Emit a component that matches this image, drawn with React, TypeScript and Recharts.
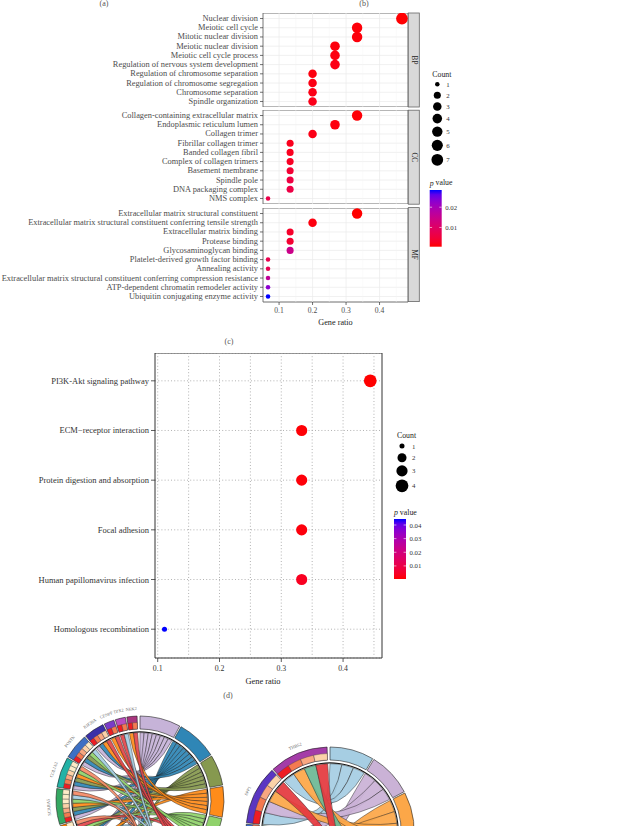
import React from 'react';
import {
  ScatterChart, Scatter, XAxis, YAxis, ZAxis, CartesianGrid, Cell,
  ReferenceLine, ReferenceArea, PieChart, Pie,
} from 'recharts';

const FONT = '"Liberation Serif", "DejaVu Serif", serif';

/* ---------------- (b) GO enrichment dot plot ---------------- */
const goFacets = ['BP', 'CC', 'MF'];

const bpTerms = [
  'Nuclear division', 'Meiotic cell cycle', 'Mitotic nuclear division', 'Meiotic nuclear division',
  'Meiotic cell cycle process', 'Regulation of nervous system development',
  'Regulation of chromosome separation', 'Regulation of chromosome segregation',
  'Chromosome separation', 'Spindle organization',
];
const bpRatio = [0.467, 0.333, 0.333, 0.267, 0.267, 0.267, 0.2, 0.2, 0.2, 0.2];
const bpCount = [7, 5, 5, 4, 4, 4, 3, 3, 3, 3];
const bpP = [0.0006, 0.0009, 0.001, 0.0011, 0.0013, 0.0016, 0.0012, 0.0015, 0.0016, 0.0018];

const ccTerms = [
  'Collagen-containing extracellular matrix', 'Endoplasmic reticulum lumen', 'Collagen trimer',
  'Fibrillar collagen trimer', 'Banded collagen fibril', 'Complex of collagen trimers',
  'Basement membrane', 'Spindle pole', 'DNA packaging complex', 'NMS complex',
];
const ccRatio = [0.333, 0.267, 0.2, 0.133, 0.133, 0.133, 0.133, 0.133, 0.133, 0.067];
const ccCount = [5, 4, 3, 2, 2, 2, 2, 2, 2, 1];
const ccP = [0.0008, 0.0012, 0.0016, 0.0021, 0.0023, 0.0027, 0.0042, 0.0058, 0.0062, 0.0068];

const mfTerms = [
  'Extracellular matrix structural constituent',
  'Extracellular matrix structural constituent conferring tensile strength',
  'Extracellular matrix binding', 'Protease binding', 'Glycosaminoglycan binding',
  'Platelet-derived growth factor binding', 'Annealing activity',
  'Extracellular matrix structural constituent conferring compression resistance',
  'ATP-dependent chromatin remodeler activity', 'Ubiquitin conjugating enzyme activity',
];
const mfRatio = [0.333, 0.2, 0.133, 0.133, 0.133, 0.067, 0.067, 0.067, 0.067, 0.067];
const mfCount = [5, 3, 2, 2, 2, 1, 1, 1, 1, 1];
const mfP = [0.0005, 0.0012, 0.0033, 0.004, 0.0145, 0.0072, 0.0075, 0.016, 0.023, 0.0285];

const goRatioTicks = [0.1, 0.2, 0.3, 0.4];
const goMinorTicks = [0.15, 0.25, 0.35, 0.45];
const goCountLegend = [1, 2, 3, 4, 5, 6, 7];
const goPTicks = [0.01, 0.02];

/* ---------------- (c) KEGG dot plot ---------------- */
const keggTerms = [
  'PI3K-Akt signaling pathway', 'ECM\u2212receptor interaction', 'Protein digestion and absorption',
  'Focal adhesion', 'Human papillomavirus infection', 'Homologous recombination',
];
const keggRatio = [0.444, 0.333, 0.333, 0.333, 0.333, 0.111];
const keggCount = [4, 3, 3, 3, 3, 1];
const keggP = [0.0004, 0.0008, 0.001, 0.0012, 0.0035, 0.0444];
const keggRatioTicks = [0.1, 0.2, 0.3, 0.4];
const keggMinorTicks = [0.15, 0.25, 0.35, 0.45];
const keggCountLegend = [1, 2, 3, 4];
const keggPTicks = [0.01, 0.02, 0.03, 0.04];

/* ---------------- (d) chord diagrams ---------------- */
const leftTerms = [
  'Collagen-containing extracellular matrix', 'Extracellular matrix structural constituent',
  'Collagen trimer', 'Nuclear division', 'Endoplasmic reticulum lumen',
  'Meiotic cell cycle', 'Spindle organization', 'Basement membrane',
];
const leftTermColors = ['#c6b3d8', '#2f86b6', '#86994f', '#ff8c1a', '#90d26b', '#e2474b', '#a6cee3', '#f58a66'];
const leftGenes = ['COL11A1', 'MMP11', 'CCNB1', 'BIRC5', 'SCARA5', 'COL1A2', 'POSTN', 'KIF20A', 'CENPF', 'TPX2', 'NEK2'];
const leftGeneColors = ['#a65628', '#ffd92f', '#e31a1c', '#ff7f00', '#35a862', '#22b2a6', '#3d70c4', '#3a30a8', '#7a3cc8', '#b94fc0', '#a8357e'];
const leftGeneTerms = [
  [0, 1, 2, 4, 6], [0, 1, 4, 7], [0, 1, 2, 3, 6], [0, 1, 2, 4, 5, 7], [0, 1, 2, 3, 4, 6, 7],
  [0, 1, 2, 3, 4, 7], [0, 1, 2, 4, 6], [0, 1, 3, 5], [3, 5], [5, 6], [3, 5],
];

const rightTerms = keggTerms;
const rightTermColors = ['#a6cee3', '#cab2d6', '#fca748', '#6db895', '#e4393e', '#ffed6f'];
const rightGenes = ['RAD51', 'COL1A2', 'COL3A1', 'ITGA11', 'SPP1', 'THBS2'];
const rightGeneColors = ['#e5c494', '#66a61e', '#1b9e77', '#3d6cc8', '#5b36c2', '#a43ca8'];
const rightGeneTerms = [[5], [1, 2, 3], [0, 2, 4], [1, 3], [0, 1, 2, 4], [0, 2, 3, 4]];

const squarePalette = ['#ee1d23', '#f47a50', '#f8a781', '#fcd2a8', '#feecc7'];

/* ---------------- colour helpers (Lab interpolation red -> blue) ---------------- */
const toLin = (c: number) => { const v = c / 255; return v <= 0.04045 ? v / 12.92 : Math.pow((v + 0.055) / 1.055, 2.4); };
const fromLin = (v: number) => {
  const s = v <= 0.0031308 ? 12.92 * v : 1.055 * Math.pow(Math.max(v, 0), 1 / 2.4) - 0.055;
  return Math.round(Math.max(0, Math.min(1, s)) * 255);
};
const fLab = (t: number) => (t > 216 / 24389 ? Math.cbrt(t) : ((24389 / 27) * t + 16) / 116);
const fInv = (t: number) => (t * t * t > 216 / 24389 ? t * t * t : (116 * t - 16) / (24389 / 27));
function rgbToLab(r: number, g: number, b: number) {
  const R = toLin(r), G = toLin(g), B = toLin(b);
  const X = (0.4124564 * R + 0.3575761 * G + 0.1804375 * B) / 0.95047;
  const Y = 0.2126729 * R + 0.7151522 * G + 0.072175 * B;
  const Z = (0.0193339 * R + 0.119192 * G + 0.9503041 * B) / 1.08883;
  const fx = fLab(X), fy = fLab(Y), fz = fLab(Z);
  return [116 * fy - 16, 500 * (fx - fy), 200 * (fy - fz)];
}
function labToHex(L: number, a: number, b: number) {
  const fy = (L + 16) / 116, fx = fy + a / 500, fz = fy - b / 200;
  const X = fInv(fx) * 0.95047, Y = fInv(fy), Z = fInv(fz) * 1.08883;
  const R = 3.2404542 * X - 1.5371385 * Y - 0.4985314 * Z;
  const G = -0.969266 * X + 1.8760108 * Y + 0.041556 * Z;
  const B = 0.0556434 * X - 0.2040259 * Y + 1.0572252 * Z;
  return '#' + [R, G, B].map((v) => fromLin(v).toString(16).padStart(2, '0')).join('');
}
const LAB_LO = rgbToLab(255, 0, 0);
const LAB_HI = rgbToLab(0, 0, 255);
function labMix(t: number) {
  const u = Math.max(0, Math.min(1, t));
  return labToHex(
    LAB_LO[0] + (LAB_HI[0] - LAB_LO[0]) * u,
    LAB_LO[1] + (LAB_HI[1] - LAB_LO[1]) * u,
    LAB_LO[2] + (LAB_HI[2] - LAB_LO[2]) * u,
  );
}
const pColor = (p: number, lo: number, hi: number) => labMix((p - lo) / (hi - lo));

/* ---------------- layout constants ---------------- */
const GO_LEFT = 263;
const GO_RIGHT = 408;
const GO_X_DOMAIN: [number, number] = [0.052, 0.485];
const GO_TOPS = [13, 110.2, 207.6];
const GO_H = 94;
const GO_ALL_P = [...bpP, ...ccP, ...mfP];
const GO_P_LO = Math.min(...GO_ALL_P);
const GO_P_HI = Math.max(...GO_ALL_P);
const GO_C_MAX = Math.max(...bpCount, ...ccCount, ...mfCount);
const GO_AREA: [number, number] = [16, 108];

const KG_LEFT = 155;
const KG_RIGHT = 382;
const KG_TOP = 353;
const KG_BOTTOM = 658;
const KG_X_DOMAIN: [number, number] = [0.0956, 0.463];
const KG_Y_DOMAIN: [number, number] = [-0.56, 5.58];
const KG_P_LO = Math.min(...keggP);
const KG_P_HI = Math.max(...keggP);
const KG_C_MAX = Math.max(...keggCount);
const KG_AREA: [number, number] = [20, 127];

const areaFor = (c: number, cMax: number, rng: [number, number]) =>
  rng[0] + ((Math.sqrt(c) - 1) / (Math.sqrt(cMax) - 1)) * (rng[1] - rng[0]);
const radiusFor = (c: number, cMax: number, rng: [number, number]) => Math.sqrt(areaFor(c, cMax, rng) / Math.PI);

/* custom tick renderers (no wrapping) */
const makeYTick = (labels: string[], fontSize: number, fill: string) => (props: any) => {
  const { x, y, payload } = props;
  return (
    <text x={x} y={y} textAnchor="end" dominantBaseline="central" fontSize={fontSize} fill={fill} fontFamily={FONT}>
      {labels[Math.round(payload.value)]}
    </text>
  );
};
const makeXTick = (fontSize: number, fill: string) => (props: any) => {
  const { x, y, payload } = props;
  return (
    <text x={x} y={y} textAnchor="middle" dominantBaseline="hanging" fontSize={fontSize} fill={fill} fontFamily={FONT}>
      {payload.value}
    </text>
  );
};

/* ---------------- GO facet ---------------- */
function GoFacet({ idx, terms, ratio, count, p }: any) {
  const showX = idx === goFacets.length - 1;
  const data = terms.map((t: string, i: number) => ({ term: t, x: ratio[i], y: i, sz: Math.sqrt(count[i]), p: p[i] }));
  const h = GO_H + (showX ? 16 : 0);
  const yDom: [number, number] = [-0.6, terms.length - 0.4];
  return (
    <div style={{ position: 'absolute', left: 0, top: GO_TOPS[idx], width: GO_RIGHT, height: h }}>
      <ScatterChart width={GO_RIGHT} height={h} margin={{ top: 0, right: 0, bottom: 0, left: 0 }}>
        <CartesianGrid vertical={false} stroke="#ebebeb" strokeWidth={0.7} />
        {goMinorTicks.map((v) => (
          <ReferenceLine key={'m' + v} x={v} stroke="#f4f4f4" strokeWidth={0.45} />
        ))}
        {goRatioTicks.map((v) => (
          <ReferenceLine key={'M' + v} x={v} stroke="#ebebeb" strokeWidth={0.7} />
        ))}
        <XAxis
          type="number" dataKey="x" domain={GO_X_DOMAIN} allowDataOverflow ticks={goRatioTicks} interval={0}
          hide={!showX} height={16} axisLine={false} tickSize={3}
          tickLine={{ stroke: '#333', strokeWidth: 0.7 }}
          tick={makeXTick(7.6, '#4d4d4d')}
        />
        <YAxis
          type="number" dataKey="y" domain={yDom} allowDataOverflow reversed
          ticks={terms.map((_: string, i: number) => i)} interval={0}
          width={GO_LEFT} axisLine={false} tickSize={3}
          tickLine={{ stroke: '#333', strokeWidth: 0.7 }}
          tick={makeYTick(terms, 8.4, '#4d4d4d')}
        />
        <ZAxis type="number" dataKey="sz" domain={[1, Math.sqrt(GO_C_MAX)]} range={GO_AREA} />
        <ReferenceArea
          x1={GO_X_DOMAIN[0]} x2={GO_X_DOMAIN[1]} y1={yDom[0]} y2={yDom[1]}
          fill="none" fillOpacity={0} stroke="#666" strokeWidth={0.9} ifOverflow="visible"
        />
        <Scatter data={data} isAnimationActive={false}>
          {data.map((d: any, i: number) => (
            <Cell key={i} fill={pColor(d.p, GO_P_LO, GO_P_HI)} />
          ))}
        </Scatter>
      </ScatterChart>
    </div>
  );
}

/* ---------------- KEGG plot ---------------- */
function KeggPlot() {
  const data = keggTerms.map((t, i) => ({ term: t, x: keggRatio[i], y: i, sz: Math.sqrt(keggCount[i]), p: keggP[i] }));
  const h = KG_BOTTOM - KG_TOP + 20;
  const dot = { stroke: '#a0a0a0', strokeWidth: 0.8, strokeDasharray: '1 2.2' };
  return (
    <div style={{ position: 'absolute', left: 0, top: KG_TOP, width: KG_RIGHT + 2, height: h }}>
      <ScatterChart width={KG_RIGHT + 2} height={h} margin={{ top: 0, right: 2, bottom: 0, left: 0 }}>
        <CartesianGrid vertical={false} {...dot} />
        {[...keggRatioTicks, ...keggMinorTicks].map((v) => (
          <ReferenceLine key={'v' + v} x={v} {...dot} />
        ))}
        <XAxis
          type="number" dataKey="x" domain={KG_X_DOMAIN} allowDataOverflow ticks={keggRatioTicks} interval={0}
          height={20} axisLine={false} tickSize={4} tickMargin={3}
          tickLine={{ stroke: '#333', strokeWidth: 0.8 }}
          tick={makeXTick(7.8, '#333')}
        />
        <YAxis
          type="number" dataKey="y" domain={KG_Y_DOMAIN} allowDataOverflow reversed
          ticks={keggTerms.map((_, i) => i)} interval={0}
          width={KG_LEFT} axisLine={false} tickSize={4}
          tickLine={{ stroke: '#333', strokeWidth: 0.8 }}
          tick={makeYTick(keggTerms, 8.5, '#333')}
        />
        <ZAxis type="number" dataKey="sz" domain={[1, Math.sqrt(KG_C_MAX)]} range={KG_AREA} />
        <ReferenceArea
          x1={KG_X_DOMAIN[0]} x2={KG_X_DOMAIN[1]} y1={KG_Y_DOMAIN[0]} y2={KG_Y_DOMAIN[1]}
          fill="none" fillOpacity={0} stroke="#333" strokeWidth={1} ifOverflow="visible"
        />
        <Scatter data={data} isAnimationActive={false}>
          {data.map((d, i) => (
            <Cell key={i} fill={pColor(d.p, KG_P_LO, KG_P_HI)} />
          ))}
        </Scatter>
      </ScatterChart>
    </div>
  );
}

/* ---------------- chord layout ---------------- */
function layoutChord(termNames: string[], termColors: string[], geneNames: string[], geneColors: string[],
  geneTerms: number[][], small: number, big: number) {
  const nT = termNames.length, nG = geneNames.length;
  const termCount = termNames.map((_, t) => geneTerms.reduce((s, list) => s + list.filter((x) => x === t).length, 0));
  const L = termCount.reduce((a, b) => a + b, 0);
  const w = (360 - 2 * big - (nT - 1 + nG - 1) * small) / (2 * L);
  const termStart: number[] = [];
  const geneStart: number[] = [];
  const ring: any[] = [];
  let pos = 0;
  termNames.forEach((n, t) => {
    if (t > 0) { ring.push({ value: small, kind: 'gap', fill: 'none', stroke: 'none' }); pos += small; }
    termStart.push(pos);
    ring.push({ value: termCount[t] * w, kind: 'term', name: n, fill: termColors[t], stroke: '#222' });
    pos += termCount[t] * w;
  });
  ring.push({ value: big, kind: 'gap', fill: 'none', stroke: 'none' });
  pos += big;
  geneNames.forEach((n, g) => {
    if (g > 0) { ring.push({ value: small, kind: 'gap', fill: 'none', stroke: 'none' }); pos += small; }
    geneStart.push(pos);
    ring.push({ value: geneTerms[g].length * w, kind: 'gene', name: n, fill: geneColors[g], stroke: '#222' });
    pos += geneTerms[g].length * w;
  });
  ring.push({ value: big, kind: 'gap', fill: 'none', stroke: 'none' });

  const termSlot: Record<string, number> = {};
  termNames.forEach((_, t) => {
    const gs = geneNames.map((_, g) => g).filter((g) => geneTerms[g].includes(t));
    gs.forEach((g, k) => { termSlot[g + ':' + t] = termStart[t] + k * w; });
  });

  const squares: any[] = [{ value: geneStart[0], kind: 'gap', fill: 'none', stroke: 'none' }];
  const ribbons: any[] = [{ value: geneStart[0], kind: 'gap' }];
  geneNames.forEach((_, g) => {
    if (g > 0) {
      squares.push({ value: small, kind: 'gap', fill: 'none', stroke: 'none' });
      ribbons.push({ value: small, kind: 'gap' });
    }
    const ts = [...geneTerms[g]].sort((a, b) => a - b);
    ts.forEach((t, k) => {
      squares.push({ value: w, kind: 'cell', fill: squarePalette[Math.min(k, squarePalette.length - 1)], stroke: '#444' });
      const t0 = termSlot[g + ':' + t];
      ribbons.push({ value: w, kind: 'cell', t0, t1: t0 + w, color: termColors[t] });
    });
  });
  squares.push({ value: big, kind: 'gap', fill: 'none', stroke: 'none' });
  ribbons.push({ value: big, kind: 'gap' });
  return { ring, squares, ribbons };
}

const CH_OUT = 84;
const CH_RING_IN = 71;
const CH_SQ_OUT = 77.5;
const CH_CIRCLE = 67.6;
const CH_LABEL = 90;

const renderRibbon = (props: any) => {
  const d = props.payload || props;
  if (d.kind !== 'cell') return <g />;
  const { cx, cy, startAngle, endAngle } = props;
  const r = CH_CIRCLE - 0.3;
  const pt = (deg: number) => {
    const a = (deg * Math.PI) / 180;
    return [cx + r * Math.sin(a), cy - r * Math.cos(a)];
  };
  const [x1, y1] = pt(90 - startAngle);
  const [x2, y2] = pt(90 - endAngle);
  const [x3, y3] = pt(d.t0);
  const [x4, y4] = pt(d.t1);
  const path = `M${x1},${y1} A${r},${r} 0 0 1 ${x2},${y2} Q${cx},${cy} ${x3},${y3} A${r},${r} 0 0 1 ${x4},${y4} Q${cx},${cy} ${x1},${y1} Z`;
  return <path d={path} fill={d.color} fillOpacity={0.93} stroke="#222" strokeWidth={0.45} />;
};

const makeGeneLabel = (maxY: number) => (props: any) => {
  const d = props.payload || props;
  if (d.kind !== 'gene') return <g />;
  const theta = 90 - props.midAngle;
  const a = (theta * Math.PI) / 180;
  const x = props.cx + CH_LABEL * Math.sin(a);
  const y = props.cy - CH_LABEL * Math.cos(a);
  if (y > maxY) return <g />;
  const rot = theta > 180 ? theta - 360 : theta;
  return (
    <text x={x} y={y} textAnchor="middle" fontSize={4.4} fill="#666" fontFamily={FONT}
      transform={`rotate(${rot} ${x} ${y})`}>{d.name}</text>
  );
};

function ChordDiagram({ left, top, width, height, cx, cy, terms, termColors, genes, geneColors, geneTerms }: any) {
  const lay = layoutChord(terms, termColors, genes, geneColors, geneTerms, 1, 2);
  const common = { cx, cy, startAngle: 90, endAngle: -270, dataKey: 'value', isAnimationActive: false };
  return (
    <div style={{ position: 'absolute', left, top, width, height }}>
      <PieChart width={width} height={height} margin={{ top: 0, right: 0, bottom: 0, left: 0 }}>
        <Pie {...common} data={lay.ribbons} innerRadius={0} outerRadius={1} fill="none" stroke="none"
          label={renderRibbon} labelLine={false} />
        <Pie {...common} data={[{ value: 1 }]} innerRadius={CH_CIRCLE} outerRadius={CH_CIRCLE + 1.1}
          fill="#151515" stroke="none" />
        <Pie {...common} data={lay.ring} innerRadius={CH_RING_IN} outerRadius={CH_OUT} strokeWidth={0.6}
          label={makeGeneLabel(height - 14)} labelLine={false}>
          {lay.ring.map((d: any, i: number) => <Cell key={i} fill={d.fill} stroke={d.stroke} />)}
        </Pie>
        <Pie {...common} data={lay.squares} innerRadius={CH_RING_IN} outerRadius={CH_SQ_OUT} strokeWidth={0.4}>
          {lay.squares.map((d: any, i: number) => <Cell key={i} fill={d.fill} stroke={d.stroke} />)}
        </Pie>
      </PieChart>
    </div>
  );
}

/* ---------------- legends ---------------- */
function SizeLegend({ x, titleY, firstY, counts, cMax, rng, minKey, labelDx }: any) {
  const radii = counts.map((c: number) => radiusFor(c, cMax, rng));
  const keyH = radii.map((r: number) => Math.max(minKey, 2 * r + 3));
  const ys: number[] = [];
  radii.forEach((_: number, i: number) => {
    ys.push(i === 0 ? firstY : ys[i - 1] + (keyH[i - 1] + keyH[i]) / 2);
  });
  return (
    <g>
      <text x={x - 5} y={titleY} fontSize={7.8} fill="#222" dominantBaseline="central">Count</text>
      {counts.map((c: number, i: number) => (
        <g key={c}>
          <circle cx={x} cy={ys[i]} r={radii[i]} fill="#000" />
          <text x={x + labelDx} y={ys[i]} fontSize={6.8} fill="#333" dominantBaseline="central">{c}</text>
        </g>
      ))}
    </g>
  );
}

function ColorLegend({ id, x0, x1, y0, y1, lo, hi, ticks, titleY }: any) {
  const stops = Array.from({ length: 13 }, (_, i) => i / 12);
  return (
    <g>
      <defs>
        <linearGradient id={id} x1="0" y1="1" x2="0" y2="0">
          {stops.map((t) => <stop key={t} offset={t} stopColor={labMix(t)} />)}
        </linearGradient>
      </defs>
      <text x={x0} y={titleY} fontSize={7.8} fill="#222" dominantBaseline="central">
        <tspan fontStyle="italic">p</tspan> value
      </text>
      <rect x={x0} y={y0} width={x1 - x0} height={y1 - y0} fill={`url(#${id})`} />
      {ticks.map((v: number) => {
        const y = y1 - ((v - lo) / (hi - lo)) * (y1 - y0);
        return (
          <g key={v}>
            <line x1={x0} x2={x0 + 2.4} y1={y} y2={y} stroke="#fff" strokeWidth={0.6} />
            <line x1={x1 - 2.4} x2={x1} y1={y} y2={y} stroke="#fff" strokeWidth={0.6} />
            <text x={x1 + 3.5} y={y} fontSize={6.8} fill="#333" dominantBaseline="central">{v}</text>
          </g>
        );
      })}
    </g>
  );
}

export default function App() {
  const facetData = [
    { terms: bpTerms, ratio: bpRatio, count: bpCount, p: bpP },
    { terms: ccTerms, ratio: ccRatio, count: ccCount, p: ccP },
    { terms: mfTerms, ratio: mfRatio, count: mfCount, p: mfP },
  ];
  return (
    <div style={{ position: 'absolute', left: 0, top: 0, width: 624, height: 826, background: '#fff', overflow: 'hidden', fontFamily: FONT }}>
      {facetData.map((f, i) => (
        <GoFacet key={i} idx={i} {...f} />
      ))}
      <KeggPlot />
      <ChordDiagram left={0} top={700} width={244} height={126} cx={140} cy={100}
        terms={leftTerms} termColors={leftTermColors} genes={leftGenes} geneColors={leftGeneColors} geneTerms={leftGeneTerms} />
      <ChordDiagram left={244} top={700} width={200} height={126} cx={86} cy={131}
        terms={rightTerms} termColors={rightTermColors} genes={rightGenes} geneColors={rightGeneColors} geneTerms={rightGeneTerms} />
      <svg width={624} height={826} style={{ position: 'absolute', left: 0, top: 0, pointerEvents: 'none' }} fontFamily={FONT}>
        <text x={104} y={3.5} fontSize={8} fill="#555" textAnchor="middle" dominantBaseline="central">(a)</text>
        <text x={364} y={3.5} fontSize={8} fill="#555" textAnchor="middle" dominantBaseline="central">(b)</text>
        <text x={229} y={341} fontSize={8} fill="#555" textAnchor="middle" dominantBaseline="central">(c)</text>
        <text x={228} y={695} fontSize={8} fill="#555" textAnchor="middle" dominantBaseline="central">(d)</text>
        {goFacets.map((f, i) => (
          <g key={f}>
            <rect x={GO_RIGHT + 0.3} y={GO_TOPS[i]} width={11} height={GO_H} fill="#d9d9d9" stroke="#666" strokeWidth={0.8} />
            <text transform={`translate(${GO_RIGHT + 5.8} ${GO_TOPS[i] + GO_H / 2}) rotate(90)`} fontSize={7.2}
              fill="#1a1a1a" textAnchor="middle" dominantBaseline="central">{f}</text>
          </g>
        ))}
        <text x={(GO_LEFT + GO_RIGHT) / 2} y={322} fontSize={8.2} fill="#222" textAnchor="middle" dominantBaseline="central">Gene ratio</text>
        <text x={263} y={681} fontSize={8.4} fill="#222" textAnchor="middle" dominantBaseline="central">Gene ratio</text>
        <SizeLegend x={437.3} titleY={74} firstY={84.3} counts={goCountLegend} cMax={GO_C_MAX} rng={GO_AREA} minKey={11} labelDx={9} />
        <ColorLegend id="goGrad" x0={429.7} x1={441.7} y0={190} y1={246.7} lo={GO_P_LO} hi={GO_P_HI} ticks={goPTicks} titleY={182.7} />
        <SizeLegend x={402} titleY={435} firstY={446} counts={keggCountLegend} cMax={KG_C_MAX} rng={KG_AREA} minKey={11.5} labelDx={10} />
        <ColorLegend id="kgGrad" x0={394} x1={406} y0={519} y1={579} lo={KG_P_LO} hi={KG_P_HI} ticks={keggPTicks} titleY={512} />
      </svg>
    </div>
  );
}
